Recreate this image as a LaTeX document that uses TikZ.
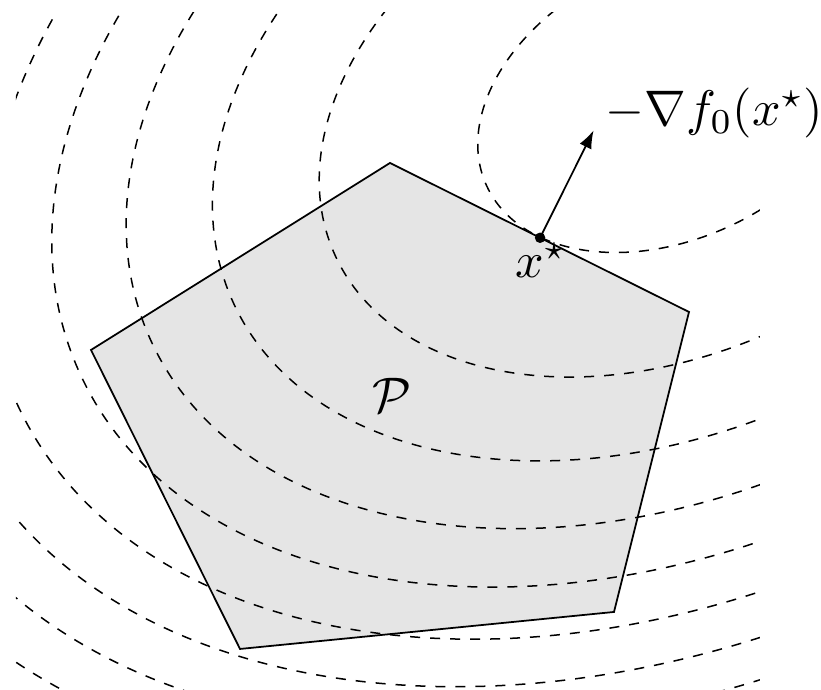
\documentclass[tikz,border=0pt]{standalone}
\usepackage{amsmath}
\usepackage{amssymb}
\usetikzlibrary{calc}
\usetikzlibrary{arrows.meta}

\begin{document}
\begin{tikzpicture}[x=2pt,y=2pt,line width=0.35pt,
  levelcurve/.style={dash pattern=on 2pt off 2pt,line width=0.3pt},
  feasible/.style={fill=black!10}]
\useasboundingbox (0,0) rectangle (82.1,69);
% corners of the polyhedron
\coordinate (p1) at (39.0,52.7);
\coordinate (p2) at (68.9,37.8);
\coordinate (p3) at (61.4,7.8);
\coordinate (p4) at (24.0,4.1);
\coordinate (p5) at (9.1,34.0);
\coordinate (ctr) at (67.2,59.0);

\fill[feasible] (p1) -- (p2) -- (p3) -- (p4) -- (p5) -- cycle;

% level curves of f_0
\begin{scope}
\clip (1.6,0) rectangle (76,67.7);
\foreach \k in {1,...,9}
  \draw[levelcurve,rotate around={25:(ctr)}] (ctr) ellipse [x radius={30.97*sqrt(\k-0.565)},y radius={21.04*sqrt(\k-0.565)}];
\end{scope}

\draw (p1) -- (p2) -- (p3) -- (p4) -- (p5) -- cycle;

\coordinate (xs) at ($(p1)!0.502!(p2)$);
\coordinate (tip) at ($(xs)!24pt!90:(p2)$);
\node[circle,fill,inner sep=0pt,minimum size=2.1pt] (dot) at (xs) {};
\draw[-{Latex[length=3.6pt,width=2.6pt]}] (dot.center) -- (tip);

\node[anchor=west,inner sep=0pt] (grad) at ($(tip) + (1.1,1.7)$) {$-\nabla f_0(x^\star)$};
\node (xlab) at ($(xs) + (0.1,-2.3)$) {$x^\star$};
\node (plab) at (39.2,29.5) {$\mathcal{P}$};
\end{tikzpicture}
\end{document}
